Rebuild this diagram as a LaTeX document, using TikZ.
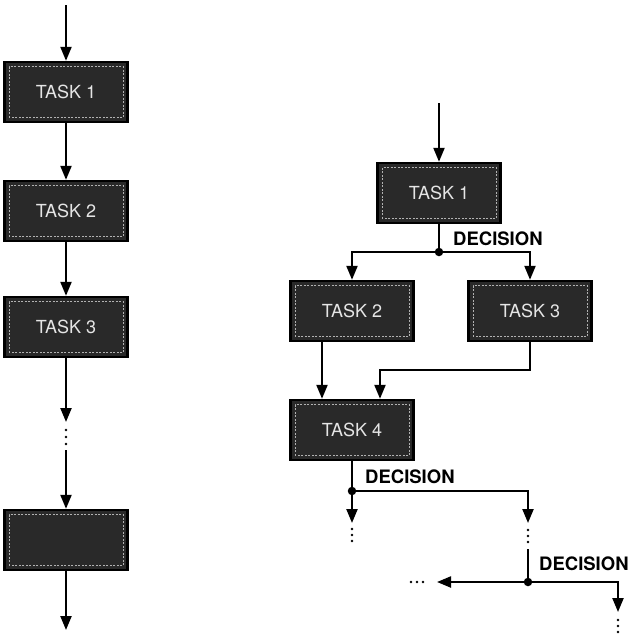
\documentclass[tikz,border=0pt]{standalone}
\usepackage{fontspec}
\setsansfont{TeX Gyre Heros}
\usetikzlibrary{arrows.meta}
\tikzset{
  taskbox/.style={draw=black, line width=2.4pt, fill=black!84, minimum width=123pt, minimum height=60pt,
    text=black!10, font=\sffamily\fontsize{18}{18}\selectfont, inner sep=0pt,
    path picture={\draw[black!30, dashed, line width=0.7pt, dash pattern=on 2pt off 1.5pt]
      ([shift={(4.5pt,4.5pt)}]path picture bounding box.south west) rectangle
      ([shift={(-4.5pt,-4.5pt)}]path picture bounding box.north east);}},
  flow/.style={line width=2.2pt, black},
  arr/.style={flow, -{Triangle[length=14pt,width=11pt]}},
  junction/.style={circle, fill=black, inner sep=0pt, minimum size=8.5pt},
  declabel/.style={anchor=west, font=\sffamily\bfseries\fontsize{18.5}{18.5}\selectfont, inner sep=0pt},
  vdot/.style={circle, fill=black, inner sep=0pt, minimum size=2.8pt},
}
\begin{document}
\begin{tikzpicture}[x=1pt,y=-1pt]
\useasboundingbox (0,0) rectangle (629,635);
% left column
\node[taskbox] (L1) at (66,92) {TASK 1};
\node[taskbox] (L2) at (66,211) {TASK 2};
\node[taskbox] (L3) at (66,327) {TASK 3};
\node[taskbox] (L4) at (66,540) {};
\coordinate (Ltop) at (66,5);
\coordinate (Lmid) at (66,422);
\coordinate (Lres) at (66,450);
\coordinate (Lbot) at (66,630);
\draw[arr] (Ltop) -- (L1.north);
\draw[arr] (L1) -- (L2);
\draw[arr] (L2) -- (L3);
\draw[arr] (L3) -- (Lmid);
\foreach \y/\n in {430/a,437/b,444/c} \node[vdot] (Ld\n) at (66,\y) {};
\draw[arr] (Lres) -- (L4.north);
\draw[arr] (L4) -- (Lbot);
% right column
\node[taskbox] (R1) at (439,193) {TASK 1};
\node[taskbox] (R2) at (352,311) {TASK 2};
\node[taskbox] (R3) at (530,311) {TASK 3};
\node[taskbox] (R4) at (352,430) {TASK 4};
\coordinate (Rtop) at (439,103);
\node[junction] (d1) at (439,252) {};
\node[declabel] (dl1) at (453,239) {DECISION};
\draw[arr] (Rtop) -- (R1.north);
\draw[flow] (R1.south) -- (d1.center);
\draw[arr] (d1.center) -| (R2.north);
\draw[arr] (d1.center) -| (R3.north);
\draw[arr] ([xshift=-30pt]R2.south) -- ([xshift=-30pt]R4.north);
\coordinate (bend) at (530,370);
\draw[arr] (R3.south) -- (bend) -| ([xshift=28pt]R4.north);
\node[junction] (d2) at (352,491) {};
\node[declabel] (dl2) at (365,477) {DECISION};
\draw[flow] (R4.south) -- (d2.center);
\coordinate (e1) at (352,523);
\coordinate (e2) at (528,523);
\draw[arr] (d2.center) -- (e1);
\draw[arr] (d2.center) -| (e2);
\foreach \y/\n in {529/a,535/b,541/c} \node[vdot] (Ra\n) at (352,\y) {};
\foreach \y/\n in {530/a,536/b,542/c} \node[vdot] (Rb\n) at (528,\y) {};
\coordinate (f0) at (528,549);
\node[junction] (d3) at (528,582) {};
\node[declabel] (dl3) at (539,564) {DECISION};
\draw[flow] (f0) -- (d3.center);
\coordinate (g1) at (437,582);
\coordinate (g2) at (618,612);
\draw[arr] (d3.center) -- (g1);
\draw[arr] (d3.center) -| (g2);
\foreach \x/\n in {411/a,417/b,423/c} \node[vdot] (Rc\n) at (\x,582) {};
\foreach \y/\n in {620/a,626/b,632/c} \node[vdot] (Rd\n) at (618,\y) {};
\end{tikzpicture}
\end{document}
